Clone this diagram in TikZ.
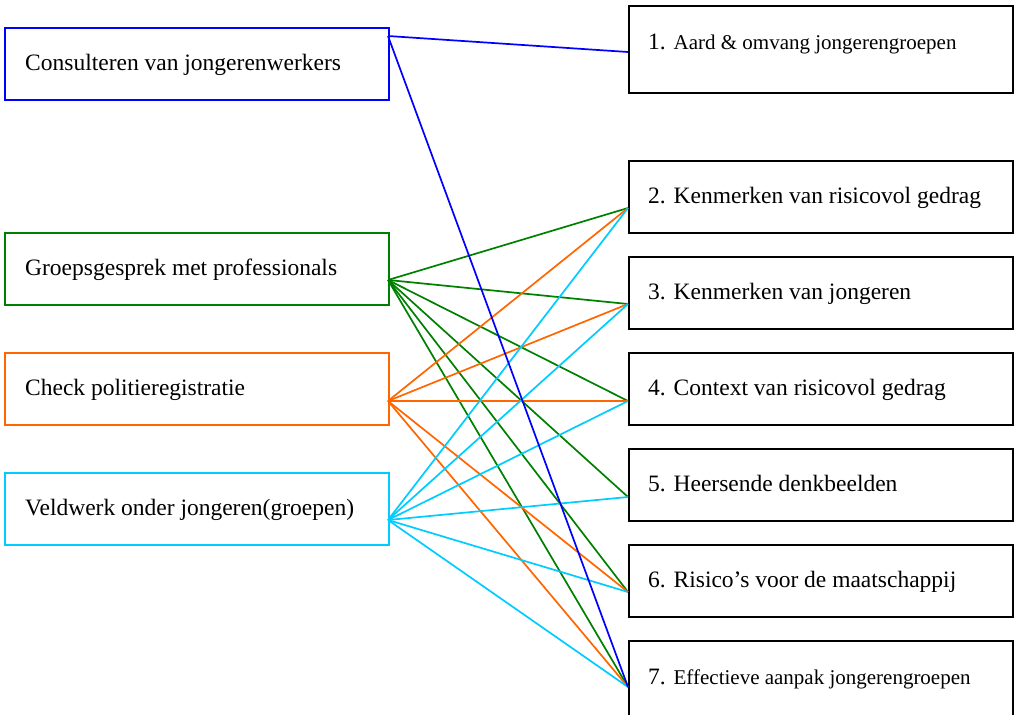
\documentclass[tikz,border=0pt]{standalone}
\usepackage{fontspec}
\setmainfont{Liberation Serif}
\definecolor{cblue}{RGB}{0,0,255}
\definecolor{cgreen}{RGB}{0,128,0}
\definecolor{corange}{RGB}{255,102,0}
\definecolor{ccyan}{RGB}{0,204,255}
\begin{document}
\begin{tikzpicture}[x=1pt,y=1pt,
  lbox/.style={draw,line width=1.7pt,minimum width=384pt,minimum height=72pt,anchor=north west,inner sep=0pt},
  rbox/.style={draw=black,line width=1.7pt,minimum width=384pt,anchor=north west,inner sep=0pt},
  ltext/.style={anchor=base west,inner sep=0pt,font=\fontsize{23.5}{28}\selectfont},
  rtext/.style={anchor=base west,inner sep=0pt,font=\fontsize{23.5}{28}\selectfont},
  con/.style={line width=1.7pt}]
\useasboundingbox (0,0) rectangle (1015,-715);
% left boxes
\node[lbox,draw=cblue] (A) at (4,-27) {};
\node[lbox,draw=cgreen] (B) at (4,-232) {};
\node[lbox,draw=corange] (C) at (4,-352) {};
\node[lbox,draw=ccyan] (D) at (4,-472) {};
\node[ltext] (At) at (25,-70) {Consulteren van jongerenwerkers};
\node[ltext] (Bt) at (25,-275) {Groepsgesprek met professionals};
\node[ltext] (Ct) at (25,-395) {Check politieregistratie};
\node[ltext] (Dt) at (25,-515) {Veldwerk onder jongeren(groepen)};
% right boxes
\node[rbox,minimum height=87pt] (R1) at (628,-5) {};
\node[rbox,minimum height=72pt] (R2) at (628,-160) {};
\node[rbox,minimum height=72pt] (R3) at (628,-256) {};
\node[rbox,minimum height=72pt] (R4) at (628,-352) {};
\node[rbox,minimum height=72pt] (R5) at (628,-448) {};
\node[rbox,minimum height=72pt] (R6) at (628,-544) {};
\node[rbox,minimum height=90pt] (R7) at (628,-640) {};
\node[rtext] (R1t) at (648,-49) {1. {\fontsize{21}{25}\selectfont Aard \& omvang jongerengroepen}};
\node[rtext] (R2t) at (648,-203) {2. Kenmerken van risicovol gedrag};
\node[rtext] (R3t) at (648,-299) {3. Kenmerken van jongeren};
\node[rtext] (R4t) at (648,-395) {4. Context van risicovol gedrag};
\node[rtext] (R5t) at (648,-491) {5. Heersende denkbeelden};
\node[rtext] (R6t) at (648,-587) {6. Risico’s voor de maatschappij};
\node[rtext] (R7t) at (648,-684) {7. {\fontsize{21}{25}\selectfont Effectieve aanpak jongerengroepen}};
% ports
\coordinate (pA) at (388,-36);
\coordinate (pB) at (388,-280);
\coordinate (pC) at (388,-401);
\coordinate (pD) at (388,-520);
\coordinate (p1) at (628,-52);
\coordinate (p2) at (628,-208);
\coordinate (p3) at (628,-304);
\coordinate (p4) at (628,-401);
\coordinate (p5) at (628,-497);
\coordinate (p6) at (628,-592);
\coordinate (p7) at (628,-687);
% connectors
\foreach \t in {2,3,4,5,6,7} \draw[con,cgreen] (pB) -- (p\t);
\foreach \t in {2,3,4,6,7} \draw[con,corange] (pC) -- (p\t);
\foreach \t in {2,3,4,5,6,7} \draw[con,ccyan] (pD) -- (p\t);
\foreach \t in {1,7} \draw[con,cblue] (pA) -- (p\t);
\end{tikzpicture}
\end{document}
